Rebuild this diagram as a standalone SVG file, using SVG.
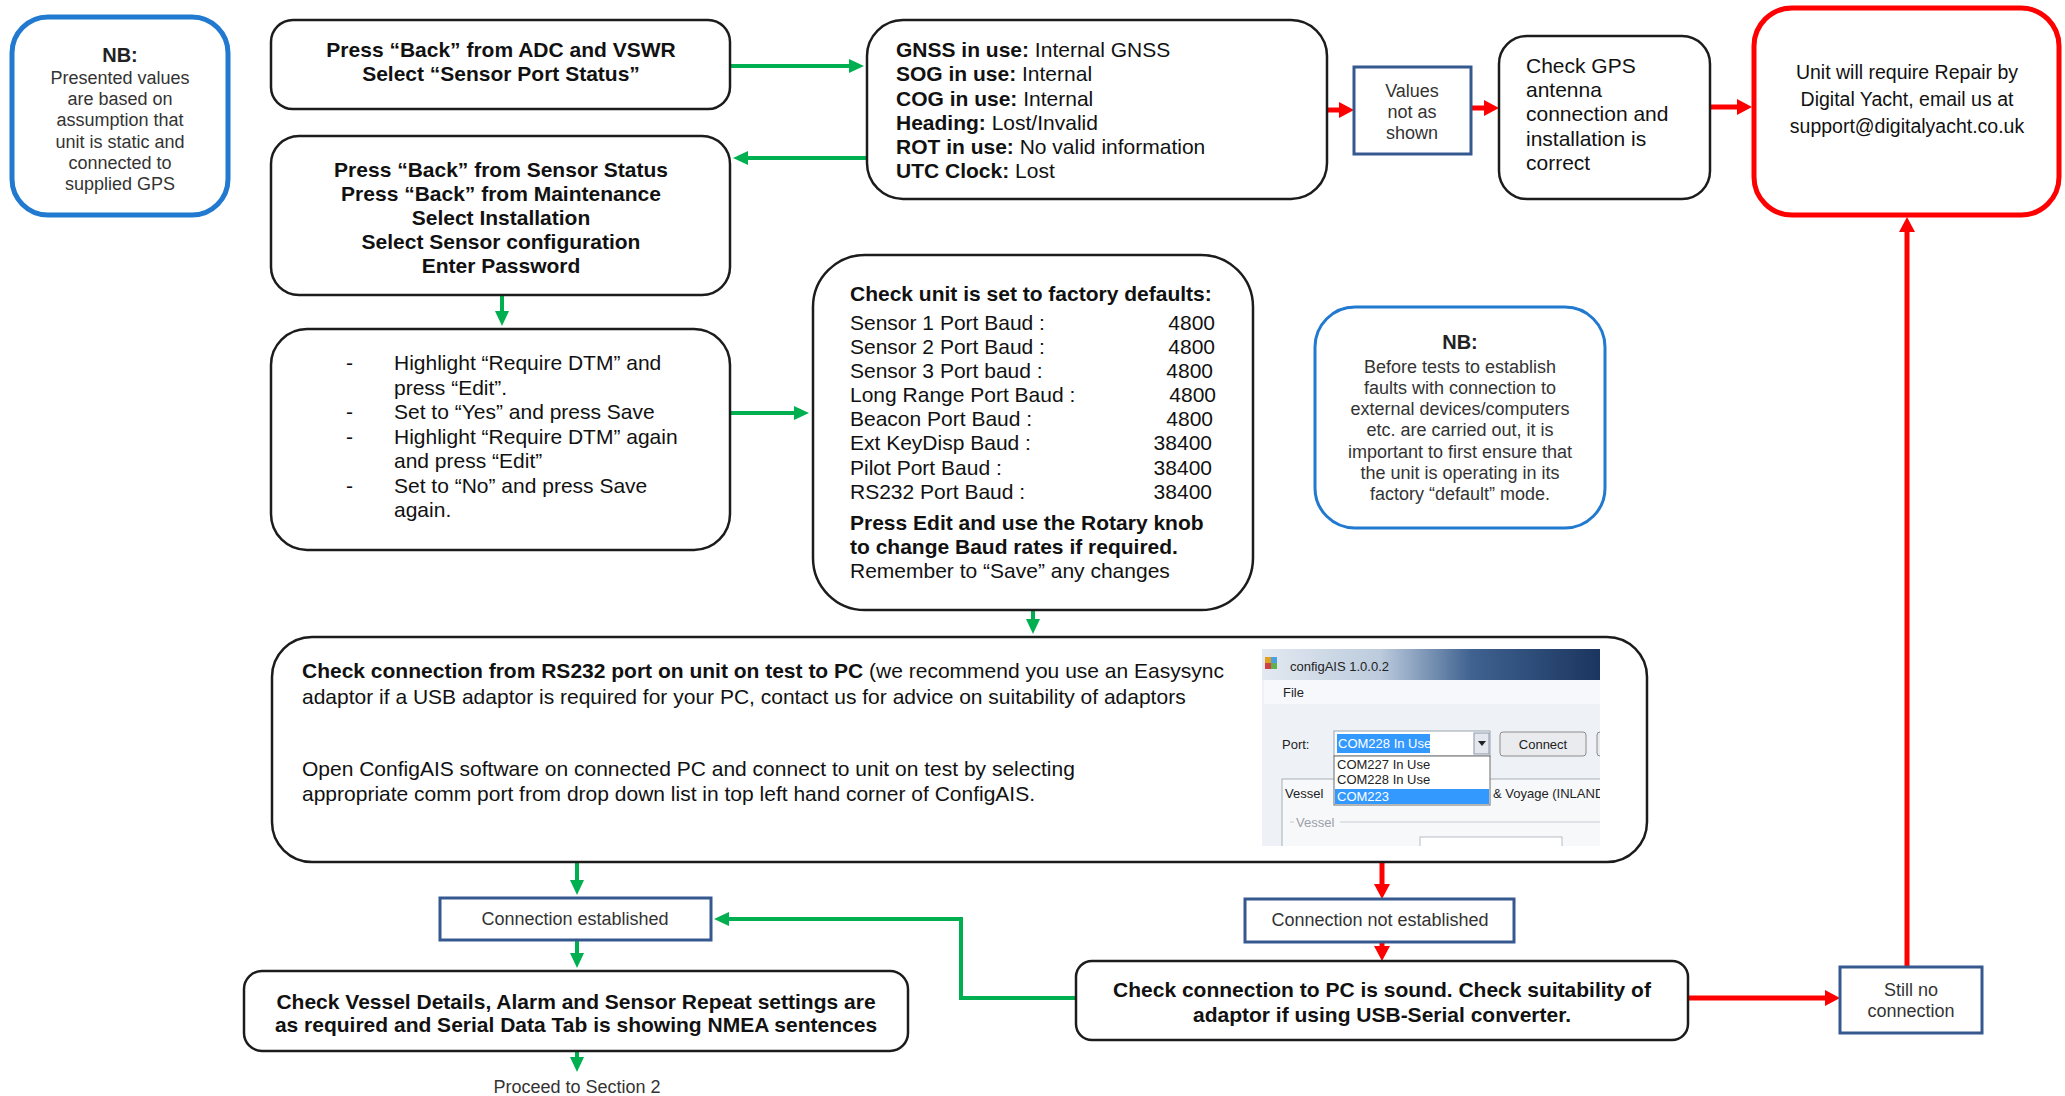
<svg xmlns="http://www.w3.org/2000/svg" width="2065" height="1096" viewBox="0 0 2065 1096">
  <style>
    text { font-family: "Liberation Sans", Arial, sans-serif; }
    .step { fill: #ffffff; stroke: #1c1c1c; stroke-width: 2.5; }
    .note { fill: #ffffff; stroke: #2179d0; }
    .state { fill: #ffffff; stroke: #35598f; stroke-width: 3; }
    .repair { fill: #ffffff; stroke: #ff0000; stroke-width: 5; }
    .t21 { font-size: 21px; fill: #111; }
    .b21 { font-size: 21px; font-weight: bold; fill: #111; }
    .t18 { font-size: 18px; fill: #333; }
    .b20 { font-size: 20px; font-weight: bold; fill: #222; }
    .mid { text-anchor: middle; }
    .end { text-anchor: end; }
    .go { fill: none; stroke: #00b050; stroke-width: 4; }
    .stop { fill: none; stroke: #ff0000; stroke-width: 5; }
    .ui { font-size: 13px; fill: #222; }
    .uiw { font-size: 13px; fill: #ffffff; }
  </style>
  <defs>
    <marker id="head-go" markerUnits="userSpaceOnUse" markerWidth="16" markerHeight="16" refX="3" refY="8" orient="auto">
      <path d="M0,1 L15,8 L0,15 z" fill="#00b050"/>
    </marker>
    <marker id="head-stop" markerUnits="userSpaceOnUse" markerWidth="16" markerHeight="18" refX="3" refY="9" orient="auto">
      <path d="M0,1 L15,9 L0,17 z" fill="#ff0000"/>
    </marker>
    <linearGradient id="titlebar" x1="0" y1="0" x2="1" y2="0">
      <stop offset="0" stop-color="#e3e9f1"/>
      <stop offset="0.35" stop-color="#bccbdd"/>
      <stop offset="0.62" stop-color="#3f6290"/>
      <stop offset="1" stop-color="#1b355f"/>
    </linearGradient>
    <clipPath id="shot-clip">
      <rect x="1262" y="649" width="338" height="197"/>
    </clipPath>
  </defs>

  <rect x="0" y="0" width="2065" height="1096" fill="#ffffff"/>

  <!-- connectors -->
  <g id="connectors">
    <path class="go" d="M730,66 H852" marker-end="url(#head-go)"/>
    <path class="go" d="M867,158 H745" marker-end="url(#head-go)"/>
    <path class="go" d="M502,295 V314" marker-end="url(#head-go)"/>
    <path class="go" d="M731,413 H797" marker-end="url(#head-go)"/>
    <path class="go" d="M1033,610 V622" marker-end="url(#head-go)"/>
    <path class="go" d="M577,862 V883" marker-end="url(#head-go)"/>
    <path class="go" d="M577,940 V956" marker-end="url(#head-go)"/>
    <path class="go" d="M577,1051 V1060" marker-end="url(#head-go)"/>
    <path class="go" d="M1076,998 H961 V919 H726" marker-end="url(#head-go)"/>

    <path class="stop" d="M1327,110 H1342" marker-end="url(#head-stop)"/>
    <path class="stop" d="M1471,108 H1487" marker-end="url(#head-stop)"/>
    <path class="stop" d="M1711,107 H1740" marker-end="url(#head-stop)"/>
    <path class="stop" d="M1382,862 V887" marker-end="url(#head-stop)"/>
    <path class="stop" d="M1382,942 V949" marker-end="url(#head-stop)"/>
    <path class="stop" d="M1688,998 H1828" marker-end="url(#head-stop)"/>
    <path class="stop" d="M1907,967 V229" marker-end="url(#head-stop)"/>
  </g>

  <!-- note: presented values -->
  <g id="note-values">
    <rect class="note" x="12" y="17" width="216" height="198" rx="36" stroke-width="5"/>
    <text class="b20 mid" x="120" y="62">NB:</text>
    <text class="t18 mid" x="120" y="84">Presented values</text>
    <text class="t18 mid" x="120" y="105">are based on</text>
    <text class="t18 mid" x="120" y="126">assumption that</text>
    <text class="t18 mid" x="120" y="148">unit is static and</text>
    <text class="t18 mid" x="120" y="169">connected to</text>
    <text class="t18 mid" x="120" y="190">supplied GPS</text>
  </g>

  <g id="step-sensor-port">
    <rect class="step" x="271" y="20" width="459" height="89" rx="22"/>
    <text class="b21 mid" x="501" y="57">Press “Back” from ADC and VSWR</text>
    <text class="b21 mid" x="501" y="81">Select “Sensor Port Status”</text>
  </g>

  <g id="step-sensor-config">
    <rect class="step" x="271" y="136" width="459" height="159" rx="28"/>
    <text class="b21 mid" x="501" y="177">Press “Back” from Sensor Status</text>
    <text class="b21 mid" x="501" y="201">Press “Back” from Maintenance</text>
    <text class="b21 mid" x="501" y="225">Select Installation</text>
    <text class="b21 mid" x="501" y="249">Select Sensor configuration</text>
    <text class="b21 mid" x="501" y="273">Enter Password</text>
  </g>

  <g id="status-values">
    <rect class="step" x="867" y="20" width="460" height="179" rx="36"/>
    <text class="t21" x="896" y="57"><tspan font-weight="bold">GNSS in use:</tspan> Internal GNSS</text>
    <text class="t21" x="896" y="81"><tspan font-weight="bold">SOG in use:</tspan> Internal</text>
    <text class="t21" x="896" y="106"><tspan font-weight="bold">COG in use:</tspan> Internal</text>
    <text class="t21" x="896" y="130"><tspan font-weight="bold">Heading:</tspan> Lost/Invalid</text>
    <text class="t21" x="896" y="154"><tspan font-weight="bold">ROT in use:</tspan> No valid information</text>
    <text class="t21" x="896" y="178"><tspan font-weight="bold">UTC Clock:</tspan> Lost</text>
  </g>

  <g id="values-not-shown">
    <rect class="state" x="1354" y="67" width="117" height="87"/>
    <text class="t18 mid" x="1412" y="97">Values</text>
    <text class="t18 mid" x="1412" y="118">not as</text>
    <text class="t18 mid" x="1412" y="139">shown</text>
  </g>

  <g id="check-gps">
    <rect class="step" x="1499" y="36" width="211" height="163" rx="28"/>
    <text class="t21" x="1526" y="73" fill="#333">Check GPS</text>
    <text class="t21" x="1526" y="97" fill="#333">antenna</text>
    <text class="t21" x="1526" y="121" fill="#333">connection and</text>
    <text class="t21" x="1526" y="146" fill="#333">installation is</text>
    <text class="t21" x="1526" y="170" fill="#333">correct</text>
  </g>

  <g id="repair">
    <rect class="repair" x="1754" y="8" width="305" height="207" rx="38"/>
    <text class="mid" x="1907" y="79" font-family="Lato, 'Open Sans', sans-serif" font-size="19.5" fill="#111">Unit will require Repair by</text>
    <text class="mid" x="1907" y="106" font-family="Lato, 'Open Sans', sans-serif" font-size="19.5" fill="#111">Digital Yacht, email us at</text>
    <text class="mid" x="1907" y="133" font-family="Lato, 'Open Sans', sans-serif" font-size="19.5" fill="#111">support@digitalyacht.co.uk</text>
  </g>

  <g id="step-require-dtm">
    <rect class="step" x="271" y="329" width="459" height="221" rx="36"/>
    <text class="t21" x="346" y="370">-</text>
    <text class="t21" x="394" y="370">Highlight “Require DTM” and</text>
    <text class="t21" x="394" y="395">press “Edit”.</text>
    <text class="t21" x="346" y="419">-</text>
    <text class="t21" x="394" y="419">Set to “Yes” and press Save</text>
    <text class="t21" x="346" y="444">-</text>
    <text class="t21" x="394" y="444">Highlight “Require DTM” again</text>
    <text class="t21" x="394" y="468">and press “Edit”</text>
    <text class="t21" x="346" y="493">-</text>
    <text class="t21" x="394" y="493">Set to “No” and press Save</text>
    <text class="t21" x="394" y="517">again.</text>
  </g>

  <g id="factory-defaults">
    <rect class="step" x="813" y="255" width="440" height="355" rx="52"/>
    <text class="b21" x="850" y="301">Check unit is set to factory defaults:</text>
    <text class="t21" x="850" y="330">Sensor 1 Port Baud :</text>
    <text class="t21 end" x="1215" y="330">4800</text>
    <text class="t21" x="850" y="354">Sensor 2 Port Baud :</text>
    <text class="t21 end" x="1215" y="354">4800</text>
    <text class="t21" x="850" y="378">Sensor 3 Port baud :</text>
    <text class="t21 end" x="1213" y="378">4800</text>
    <text class="t21" x="850" y="402">Long Range Port Baud :</text>
    <text class="t21 end" x="1216" y="402">4800</text>
    <text class="t21" x="850" y="426">Beacon Port Baud :</text>
    <text class="t21 end" x="1213" y="426">4800</text>
    <text class="t21" x="850" y="450">Ext KeyDisp Baud :</text>
    <text class="t21 end" x="1212" y="450">38400</text>
    <text class="t21" x="850" y="475">Pilot Port Baud :</text>
    <text class="t21 end" x="1212" y="475">38400</text>
    <text class="t21" x="850" y="499">RS232 Port Baud :</text>
    <text class="t21 end" x="1212" y="499">38400</text>
    <text class="b21" x="850" y="530">Press Edit and use the Rotary knob</text>
    <text class="b21" x="850" y="554">to change Baud rates if required.</text>
    <text class="t21" x="850" y="578">Remember to “Save” any changes</text>
  </g>

  <!-- note: factory default mode -->
  <g id="note-defaults">
    <rect class="note" x="1315" y="307" width="290" height="221" rx="40" stroke-width="3"/>
    <text class="b20 mid" x="1460" y="349">NB:</text>
    <text class="t18 mid" x="1460" y="373">Before tests to establish</text>
    <text class="t18 mid" x="1460" y="394">faults with connection to</text>
    <text class="t18 mid" x="1460" y="415">external devices/computers</text>
    <text class="t18 mid" x="1460" y="436">etc. are carried out, it is</text>
    <text class="t18 mid" x="1460" y="458">important to first ensure that</text>
    <text class="t18 mid" x="1460" y="479">the unit is operating in its</text>
    <text class="t18 mid" x="1460" y="500">factory “default” mode.</text>
  </g>

  <g id="check-rs232">
    <rect class="step" x="272" y="637" width="1375" height="225" rx="40"/>
    <text class="t21" x="302" y="678"><tspan font-weight="bold">Check connection from RS232 port on unit on test to PC</tspan> (we recommend you use an Easysync</text>
    <text class="t21" x="302" y="704">adaptor if a USB adaptor is required for your PC, contact us for advice on suitability of adaptors</text>
    <text class="t21" x="302" y="776">Open ConfigAIS software on connected PC and connect to unit on test by selecting</text>
    <text class="t21" x="302" y="801">appropriate comm port from drop down list in top left hand corner of ConfigAIS.</text>

    <!-- configAIS window -->
    <g id="configais-window" clip-path="url(#shot-clip)">
      <rect x="1262" y="649" width="338" height="197" fill="#eef1f5"/>
      <rect x="1262" y="649" width="338" height="31" fill="url(#titlebar)"/>
      <rect x="1265" y="657" width="6" height="6" fill="#e0a020"/>
      <rect x="1271" y="657" width="6" height="6" fill="#4aa0e0"/>
      <rect x="1265" y="663" width="6" height="6" fill="#d04040"/>
      <rect x="1271" y="663" width="6" height="6" fill="#60b050"/>
      <text class="ui" x="1290" y="671">configAIS 1.0.0.2</text>
      <rect x="1264" y="680" width="336" height="24" fill="#f6f8fb"/>
      <text class="ui" x="1283" y="697">File</text>
      <text class="ui" x="1282" y="749">Port:</text>
      <rect x="1334" y="731" width="156" height="25" fill="#ffffff" stroke="#9aa4b0"/>
      <rect x="1337" y="734" width="93" height="19" fill="#3399ff"/>
      <text class="uiw" x="1338" y="748">COM228 In Use</text>
      <rect x="1474" y="733" width="15" height="21" fill="#e4e8ee" stroke="#8a96a6"/>
      <path d="M1478,741 L1486,741 L1482,746 z" fill="#222"/>
      <rect x="1500" y="732" width="86" height="24" rx="3" fill="#e9ebee" stroke="#8c8c8c"/>
      <text class="ui mid" x="1543" y="749">Connect</text>
      <rect x="1597" y="732" width="12" height="24" rx="3" fill="#e9ebee" stroke="#8c8c8c"/>
      <rect x="1282" y="779" width="330" height="80" fill="#f7f8fa" stroke="#a8b0ba"/>
      <text class="ui" x="1285" y="798">Vessel</text>
      <text class="ui" x="1493" y="798">&amp; Voyage (INLAND</text>
      <path d="M1290,822 H1294 M1340,822 H1600" stroke="#c8ccd2" fill="none"/>
      <text x="1296" y="827" font-size="13" fill="#9aa0a8">Vessel</text>
      <rect x="1420" y="837" width="142" height="20" fill="#ffffff" stroke="#b8bec6"/>
      <rect x="1334" y="756" width="156" height="49" fill="#ffffff" stroke="#6c6c6c"/>
      <text class="ui" x="1337" y="769">COM227 In Use</text>
      <text class="ui" x="1337" y="784">COM228 In Use</text>
      <rect x="1335" y="789" width="154" height="15" fill="#3399ff"/>
      <text class="uiw" x="1337" y="801">COM223</text>
    </g>
  </g>

  <g id="connection-established">
    <rect class="state" x="440" y="898" width="271" height="42"/>
    <text class="t18 mid" x="575" y="925">Connection established</text>
  </g>

  <g id="check-vessel">
    <rect class="step" x="244" y="971" width="664" height="80" rx="18"/>
    <text class="b21 mid" x="576" y="1009">Check Vessel Details, Alarm and Sensor Repeat settings are</text>
    <text class="b21 mid" x="576" y="1032">as required and Serial Data Tab is showing NMEA sentences</text>
  </g>

  <g id="proceed">
    <text class="t18 mid" x="577" y="1093">Proceed to Section 2</text>
  </g>

  <g id="connection-not-established">
    <rect class="state" x="1245" y="899" width="269" height="43"/>
    <text class="t18 mid" x="1380" y="926">Connection not established</text>
  </g>

  <g id="check-pc-link">
    <rect class="step" x="1076" y="961" width="612" height="79" rx="16"/>
    <text class="b21 mid" x="1382" y="997">Check connection to PC is sound. Check suitability of</text>
    <text class="b21 mid" x="1382" y="1022">adaptor if using USB-Serial converter.</text>
  </g>

  <g id="still-no-connection">
    <rect class="state" x="1840" y="967" width="142" height="66"/>
    <text class="t18 mid" x="1911" y="996">Still no</text>
    <text class="t18 mid" x="1911" y="1017">connection</text>
  </g>
</svg>
